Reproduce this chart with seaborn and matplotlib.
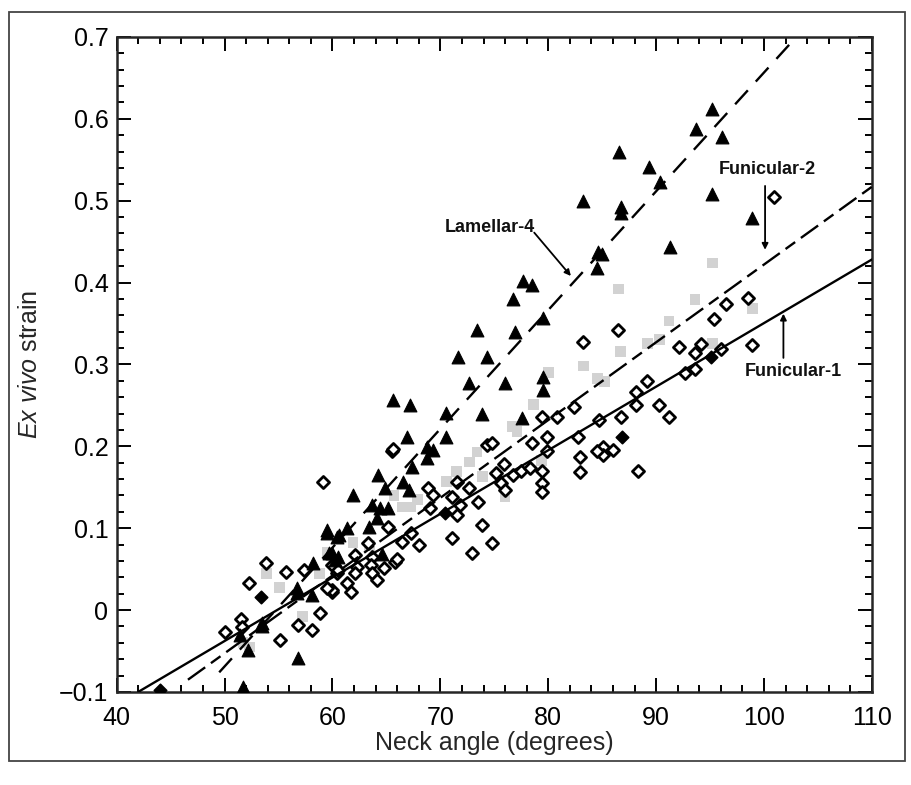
import numpy as np
import pandas as pd
import matplotlib
matplotlib.use("Agg")
import matplotlib.pyplot as plt
import seaborn as sns

# -------------------------------
# Data
# -------------------------------
# Lamellar-4 (black triangles)
lam_x = [95.2, 93.7, 96.1, 89.3, 90.4, 95.2, 98.9, 91.3, 86.7, 86.7, 86.6, 83.2,
         84.6, 85.0, 84.5, 77.7, 78.5, 76.7, 79.5, 73.4, 76.9, 71.6, 74.3, 72.7,
         76.0, 79.5, 79.5, 65.6, 67.2, 70.5, 73.9, 77.6, 66.9, 70.5, 68.8, 69.3,
         68.8, 67.4, 64.2, 66.5, 67.1, 64.9, 61.9, 63.7, 64.4, 65.1, 64.1, 63.4,
         60.6, 61.3, 59.5, 59.5, 60.4, 59.7, 58.2, 60.0, 60.2, 56.7, 56.7, 58.1,
         53.5, 53.5, 51.4, 52.2, 56.8, 51.7, 60.5, 64.6]
lam_y = [0.612, 0.588, 0.578, 0.541, 0.523, 0.508, 0.479, 0.444, 0.492, 0.485, 0.560, 0.500,
         0.437, 0.435, 0.418, 0.402, 0.397, 0.380, 0.357, 0.342, 0.340, 0.309, 0.309, 0.277,
         0.277, 0.285, 0.269, 0.256, 0.251, 0.241, 0.239, 0.235, 0.211, 0.211, 0.199, 0.196,
         0.186, 0.175, 0.165, 0.157, 0.147, 0.149, 0.141, 0.128, 0.125, 0.125, 0.113, 0.101,
         0.092, 0.100, 0.098, 0.094, 0.089, 0.070, 0.058, 0.070, 0.061, 0.027, 0.021, 0.019,
         -0.016, -0.020, -0.030, -0.049, -0.058, -0.094, 0.065, 0.068]

# Funicular-2 (grey squares)
fun2_x = [95.2, 86.5, 93.6, 91.2, 98.9, 89.2, 90.3, 86.7, 95.2, 85.2, 84.6, 83.3,
          80.0, 78.6, 76.7, 77.1, 79.4, 76.0, 73.9, 73.4, 72.7, 71.5, 70.6, 65.7,
          66.5, 67.2, 67.9, 61.9, 63.4, 59.5, 53.9, 55.1, 51.7, 52.3, 58.8, 57.2]
fun2_y = [0.424, 0.392, 0.379, 0.353, 0.368, 0.326, 0.330, 0.316, 0.326, 0.279, 0.283, 0.298,
          0.290, 0.251, 0.224, 0.218, 0.183, 0.138, 0.163, 0.193, 0.181, 0.169, 0.157, 0.140,
          0.126, 0.126, 0.135, 0.083, 0.079, 0.071, 0.045, 0.028, -0.040, -0.045, 0.045, -0.008]

# Funicular-1 (open diamonds)
fun1_x = [100.9, 98.5, 96.5, 95.4, 86.5, 98.9, 92.1, 94.2, 93.6, 96.0, 92.7, 93.6,
          89.2, 88.1, 88.1, 86.7, 90.3, 91.2, 85.1, 86.0, 85.1, 88.3, 83.2, 82.4,
          84.7, 80.8, 79.4, 79.9, 82.8, 78.5, 74.3, 74.8, 79.9, 75.9, 82.9, 84.5,
          82.9, 75.2, 76.7, 77.5, 78.3, 79.4, 79.4, 79.4, 75.6, 76.0, 73.5, 65.5,
          68.9, 69.3, 71.5, 72.7, 71.1, 71.8, 71.5, 69.0, 73.9, 71.1, 72.9, 65.1,
          63.3, 66.4, 67.3, 68.0, 65.8, 63.7, 63.6, 63.7, 64.8, 64.1, 62.1, 62.3,
          60.0, 60.4, 61.3, 61.7, 60.0, 62.1, 59.1, 65.6, 74.8, 66.0, 53.8, 55.7,
          57.4, 52.3, 58.8, 58.1, 56.8, 55.1, 51.5, 51.6, 50.0, 60.0, 59.5, 60.5]
fun1_y = [0.505, 0.381, 0.374, 0.356, 0.342, 0.324, 0.321, 0.325, 0.314, 0.319, 0.290, 0.294,
          0.280, 0.266, 0.250, 0.236, 0.250, 0.236, 0.199, 0.196, 0.189, 0.170, 0.328, 0.248,
          0.232, 0.236, 0.236, 0.211, 0.211, 0.204, 0.202, 0.204, 0.194, 0.178, 0.187, 0.194,
          0.169, 0.168, 0.165, 0.170, 0.174, 0.170, 0.155, 0.144, 0.155, 0.147, 0.132, 0.194,
          0.149, 0.141, 0.157, 0.149, 0.138, 0.128, 0.116, 0.125, 0.104, 0.088, 0.070, 0.102,
          0.082, 0.083, 0.094, 0.080, 0.059, 0.065, 0.055, 0.045, 0.051, 0.037, 0.067, 0.053,
          0.055, 0.045, 0.033, 0.022, 0.022, 0.045, 0.156, 0.197, 0.082, 0.062, 0.058, 0.047,
          0.049, 0.033, -0.003, -0.024, -0.018, -0.036, -0.011, -0.021, -0.027, 0.025, 0.027, 0.049]

# overlapping points that print as solid diamonds
solid_x = [44.0, 53.4, 86.8, 95.1, 70.4]
solid_y = [-0.098, 0.016, 0.211, 0.309, 0.119]

# regression lines: (intercept, slope, x start, x end)
fit_fun1 = (-0.426, 0.007765, 42.0, 110.0)
fit_fun2 = (-0.5275, 0.009495, 46.6, 110.0)
fit_lam4 = (-0.794, 0.014505, 49.5, 103.0)

x_ticks = [40, 50, 60, 70, 80, 90, 100, 110]
y_ticks = [-0.1, 0, 0.1, 0.2, 0.3, 0.4, 0.5, 0.6, 0.7]
y_ticklabels = ["\u22120.1", "0", "0.1", "0.2", "0.3", "0.4", "0.5", "0.6", "0.7"]

# -------------------------------
# Style
# -------------------------------
sns.set_style("ticks")
fonts = ["Liberation Sans", "DejaVu Sans"]
plt.rcParams["font.family"] = fonts
plt.rcParams["mathtext.fontset"] = "custom"
plt.rcParams["mathtext.it"] = "Liberation Sans:italic"
plt.rcParams["mathtext.rm"] = "Liberation Sans"

fig = plt.figure(figsize=(9.12, 7.85), dpi=100)
ax = fig.add_axes([0.128, 0.1185, 0.828, 0.8345])

# -------------------------------
# Points
# -------------------------------
df_f2 = pd.DataFrame({"x": fun2_x, "y": fun2_y})
df_f1 = pd.DataFrame({"x": fun1_x, "y": fun1_y})
df_l4 = pd.DataFrame({"x": lam_x, "y": lam_y})
df_solid = pd.DataFrame({"x": solid_x, "y": solid_y})

sns.scatterplot(data=df_f2, x="x", y="y", ax=ax, marker="s", s=60,
                color="#d2d2d2", edgecolor="none", zorder=2)
sns.scatterplot(data=df_f1, x="x", y="y", ax=ax, marker="D", s=38,
                facecolor="white", edgecolor="black", linewidth=2.0, zorder=3)
sns.scatterplot(data=df_solid, x="x", y="y", ax=ax, marker="D", s=40,
                color="black", edgecolor="black", linewidth=1.2, zorder=3)
sns.scatterplot(data=df_l4, x="x", y="y", ax=ax, marker="^", s=85,
                color="black", edgecolor="black", linewidth=0.8, zorder=4)

# -------------------------------
# Fit lines
# -------------------------------
for (a, b, x0, x1), dash in [(fit_fun1, None), (fit_fun2, (9, 3, 5, 3)), (fit_lam4, (8, 5))]:
    xs = np.array([x0, x1])
    line, = ax.plot(xs, a + b * xs, color="black", lw=1.7, zorder=5)
    if dash is not None:
        line.set_dashes(dash)

# -------------------------------
# Annotations
# -------------------------------
ann = dict(fontsize=13, fontweight="bold", family=fonts, color="#111111",
           ha="center", va="center")
arrow = dict(arrowstyle="-|>", lw=1.3, color="black", mutation_scale=9, shrinkA=0, shrinkB=0)
ax.text(74.6, 0.467, "Lamellar-4", **ann)
ax.annotate("", xy=(82.1, 0.408), xytext=(78.7, 0.461), arrowprops=arrow)
ax.text(100.3, 0.538, "Funicular-2", **ann)
ax.annotate("", xy=(100.1, 0.440), xytext=(100.1, 0.518), arrowprops=arrow)
ax.text(102.7, 0.291, "Funicular-1", **ann)
ax.annotate("", xy=(101.8, 0.362), xytext=(101.8, 0.308), arrowprops=arrow)

# -------------------------------
# Axes
# -------------------------------
ax.set_xlim(40, 110)
ax.set_ylim(-0.1, 0.7)
ax.set_xticks(x_ticks)
ax.set_yticks(y_ticks)
ax.set_yticklabels(y_ticklabels)
ax.set_xticks(np.arange(40, 111, 2), minor=True)
ax.set_yticks(np.linspace(-0.1, 0.7, 41), minor=True)
ax.tick_params(which="both", direction="in", top=True, right=True, labelsize=18,
               width=1.4, colors="black")
ax.tick_params(which="major", length=10, pad=6)
ax.tick_params(which="minor", length=5)
ax.tick_params(axis="x", which="major", pad=10)
for sp in ax.spines.values():
    sp.set_visible(True)
    sp.set_linewidth(1.8)
ax.set_xlabel("Neck angle (degrees)", fontsize=18, labelpad=1)
ax.set_ylabel(r"$\mathit{Ex\ vivo}$ strain", fontsize=18, labelpad=12)

# outer frame of the printed figure
fig.add_artist(plt.Rectangle((0.0099, 0.030), 0.9821, 0.955, transform=fig.transFigure,
                             fill=False, lw=1.3, ec="#444444"))

plt.savefig("out.png", dpi=100)
